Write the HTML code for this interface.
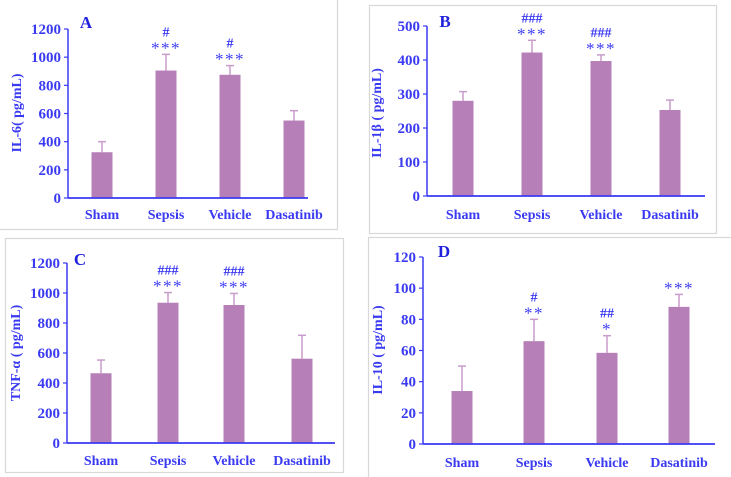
<!DOCTYPE html>
<html><head><meta charset="utf-8"><style>
body{margin:0;background:#fff;width:731px;height:477px;overflow:hidden}
svg{display:block}
svg text{font-family:"Times New Roman",Times,"Liberation Serif","DejaVu Serif",serif !important}
</style></head><body>
<svg id="c" width="731" height="477"></svg>
<script>
const categories=["Sham","Sepsis","Vehicle","Dasatinib"];
const aValues=[325,905,875,550];
const aErrors=[75,115,65,70];
const bValues=[280,422,397,253];
const bErrors=[27,36,18,29];
const cValues=[465,935,920,562];
const cErrors=[88,68,77,156];
const dValues=[34,66,58.5,88];
const dErrors=[16,14,11,8];
const aTicks=[0,200,400,600,800,1000,1200];
const bTicks=[0,100,200,300,400,500];
const cTicks=[0,200,400,600,800,1000,1200];
const dTicks=[0,20,40,60,80,100,120];
const aMarks=[[],["#","***"],["#","***"],[]];
const bMarks=[[],["###","***"],["###","***"],[]];
const cMarks=[[],["###","***"],["###","***"],[]];
const dMarks=[[],["#","**"],["##","*"],["***"]];

const NS="http://www.w3.org/2000/svg";
const svg=document.getElementById('c');
const BLUE="#3a3af2",BAR="#b67fb8",ERR="#c89ccb";
function mk(t,a,p){const e=document.createElementNS(NS,t);for(const k in a)e.setAttribute(k,a[k]);(p||svg).appendChild(e);return e;}
const panels=[
 {id:"a",letter:"A",box:[-2,-2,339,231],ax:68,x1:308,y0:198,yT:29,max:1200,bx:[102,166,230,294],lab:"IL-6( pg/mL)",lx:18,ly:113,vals:aValues,errs:aErrors,ticks:aTicks,marks:aMarks,ly2:214,L:[86,22]},
 {id:"b",letter:"B",box:[369,5,347,228],ax:427,x1:705,y0:196,yT:26,max:500,bx:[463,532,601,670],lab:"IL-1β ( pg/mL)",lx:378,ly:113,vals:bValues,errs:bErrors,ticks:bTicks,marks:bMarks,ly2:214,L:[445,21]},
 {id:"c",letter:"C",box:[5,238,338,234],ax:67,x1:335,y0:443,yT:263,max:1200,bx:[101,168,234,302],lab:"TNF-α ( pg/mL)",lx:17,ly:353,vals:cValues,errs:cErrors,ticks:cTicks,marks:cMarks,ly2:460,L:[80,259]},
 {id:"d",letter:"D",box:[368,237,366,245],ax:423,x1:715,y0:444,yT:257,max:120,bx:[462,534,607,679],lab:"IL-10 ( pg/mL)",lx:379,ly:350,vals:dValues,errs:dErrors,ticks:dTicks,marks:dMarks,ly2:462,L:[444,251]}
];
panels.forEach(p=>{
 const g=mk('g',{});
 
 
 const bx=mk('rect',{x:p.box[0]+.5,y:p.box[1]+.5,width:p.box[2],height:p.box[3],fill:'none',stroke:'#d8d8d8','stroke-width':1.2},g);
 
 
 const Y=v=>p.y0-(v/p.max)*(p.y0-p.yT);
 p.vals.forEach((v,i)=>{
  const x=p.bx[i],top=Y(v),et=Y(v+p.errs[i]);
  const el=mk('line',{x1:x,x2:x,y1:top,y2:et,stroke:ERR,'stroke-width':1.5},g);
  
  
  const cap=mk('line',{x1:x-4,x2:x+4,y1:et,y2:et,stroke:ERR,'stroke-width':1.5},g);
  
  
  const r=mk('rect',{x:x-10.5,y:top,width:21,height:p.y0-top,fill:BAR},g);
  
  
  p.marks[i].forEach((m,k)=>{
   const n=p.marks[i].length;
   const isHash=m.startsWith('#');
   const yy=et-(isHash?5:1)-(n-1-k)*13;
   const t=mk('text',{x:x,y:yy,'text-anchor':'middle',fill:BLUE,'font-size':isHash?14:17,'font-weight':isHash?'bold':'normal','letter-spacing':isHash?0:1.5},g);
   t.textContent=m;
   
   
  });
  const lt=mk('text',{x:x,y:p.ly2+5,'text-anchor':'middle',fill:BLUE,'font-size':14,'font-weight':'bold'},g);
  lt.textContent=categories[i];
  
  
 });
 const ya=mk('line',{x1:p.ax,x2:p.ax,y1:p.yT,y2:p.y0,stroke:BLUE,'stroke-width':1.5},g);
 
 
 const xa=mk('line',{x1:p.ax,x2:p.x1,y1:p.y0,y2:p.y0,stroke:BLUE,'stroke-width':1.8},g);
 
 
 p.ticks.forEach(v=>{
  const y=Y(v);
  const tk=mk('line',{x1:p.ax-4,x2:p.ax,y1:y,y2:y,stroke:BLUE,'stroke-width':1.2},g);
  
  
  const t=mk('text',{x:p.ax-7,y:y+5,'text-anchor':'end',fill:BLUE,'font-size':15,'font-weight':'bold'},g);
  t.textContent=v;
  
  
 });
 const yl=mk('text',{x:p.lx,y:p.ly,transform:`rotate(-90 ${p.lx} ${p.ly})`,'text-anchor':'middle',fill:BLUE,'font-size':14,'font-weight':'bold','dominant-baseline':'middle'},g);
 yl.textContent=p.lab;
 
 
 const L=mk('text',{x:p.L[0],y:p.L[1]+6,'text-anchor':'middle',fill:'#2222dd','font-size':17,'font-weight':'bold'},g);
 L.textContent=p.letter;
 
 
});
</script>
</body></html>
